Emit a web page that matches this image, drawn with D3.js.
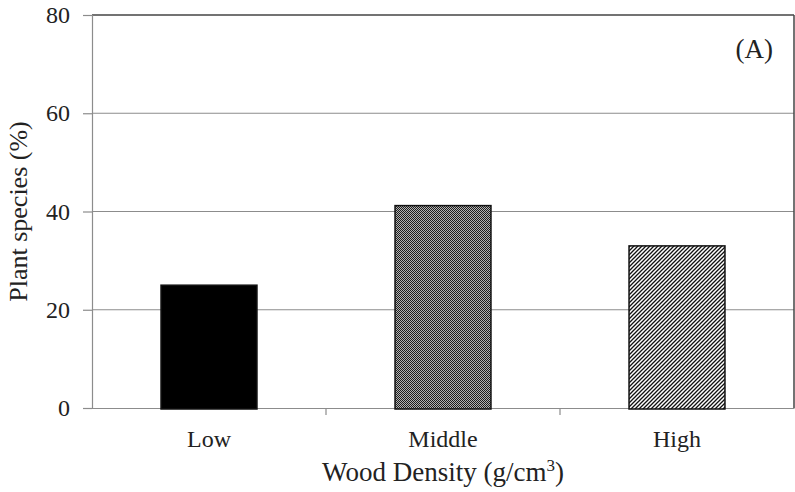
<!DOCTYPE html>
<html><head><meta charset="utf-8">
<script src="https://cdn.jsdelivr.net/npm/d3@7"></script>
<style>body{margin:0;background:#fff}svg{display:block}text{font-family:"Liberation Serif","Times New Roman",serif;fill:#222}</style>
</head><body><svg id="c" width="795" height="492"></svg>
<script>
const categories = ["Low", "Middle", "High"];
const values = [25, 41.2, 33];
const fills = ["solid", "dots", "hatch"];
const yTicks = [0, 20, 40, 60, 80];

const svg = d3.select("#c");
const m = {l: 92, r: 794, t: 15, b: 408};
const x = d3.scaleBand().domain(categories).range([m.l, m.r]).paddingInner(0.59).paddingOuter(0.295);
const xb = d3.scaleBand().domain(categories).range([m.l, m.r]);
const y = d3.scaleLinear().domain([0, 80]).range([m.b, m.t]);

const defs = svg.append("defs");
const pd = defs.append("pattern").attr("id", "dots").attr("width", 2).attr("height", 2).attr("patternUnits", "userSpaceOnUse");
pd.append("rect").attr("width", 2).attr("height", 2).attr("fill", "#b4b4b4");
pd.append("rect").attr("width", 1).attr("height", 1).attr("fill", "#1e1e1e");
pd.append("rect").attr("x", 1).attr("y", 1).attr("width", 1).attr("height", 1).attr("fill", "#1e1e1e");
const ph = defs.append("pattern").attr("id", "hatch").attr("width", 4).attr("height", 4).attr("patternUnits", "userSpaceOnUse");
ph.append("rect").attr("width", 4).attr("height", 4).attr("fill", "#fff");
ph.append("path").attr("d", "M0,4L4,0M-1,1L1,-1M3,5L5,3").attr("stroke", "#111").attr("stroke-width", 1.3);

// gridlines
svg.append("g").selectAll("line").data(yTicks.filter(d => d > 0 && d < 80)).join("line")
  .attr("x1", m.l).attr("x2", m.r).attr("y1", d => y(d)).attr("y2", d => y(d))
  .attr("stroke", "#8c8c8c").attr("stroke-width", 1.2);
// top and right border
svg.append("line").attr("x1", m.l).attr("x2", m.r).attr("y1", y(80)).attr("y2", y(80)).attr("stroke", "#444").attr("stroke-width", 1.5);
svg.append("line").attr("x1", m.r).attr("x2", m.r).attr("y1", y(80)).attr("y2", m.b).attr("stroke", "#444").attr("stroke-width", 1.5);

// y axis
const ya = svg.append("g").attr("transform", `translate(${m.l},0)`)
  .call(d3.axisLeft(y).tickValues(yTicks).tickSize(9).tickPadding(13));
ya.select(".domain").attr("stroke", "#8c8c8c").attr("stroke-width", 1.2);
ya.selectAll(".tick line").attr("stroke", "#8c8c8c").attr("stroke-width", 1.2);
ya.selectAll("text").attr("font-size", 24).attr("fill", "#222").attr("font-family", "Liberation Serif");

// x axis
const xa = svg.append("g").attr("transform", `translate(0,${m.b})`)
  .call(d3.axisBottom(xb).tickSize(0).tickPadding(22));
xa.select(".domain").attr("stroke", "#8c8c8c").attr("stroke-width", 1.2);
xa.selectAll("text").attr("font-size", 24).attr("fill", "#222").attr("font-family", "Liberation Serif");
// category boundary ticks
svg.append("g").selectAll("line").data(categories.slice(1)).join("line")
  .attr("x1", d => xb(d)).attr("x2", d => xb(d)).attr("y1", m.b).attr("y2", m.b + 7)
  .attr("stroke", "#8c8c8c").attr("stroke-width", 1.2);

// bars
svg.append("g").selectAll("rect").data(categories).join("rect")
  .attr("x", d => x(d)).attr("width", x.bandwidth())
  .attr("y", (d, i) => y(values[i])).attr("height", (d, i) => y(0) - y(values[i]) + 1)
  .attr("fill", (d, i) => fills[i] === "solid" ? "#000" : `url(#${fills[i]})`)
  .attr("stroke", "#111").attr("stroke-width", 1.5);

// titles
const xt = svg.append("text").attr("x", (m.l + m.r) / 2).attr("y", 481).attr("text-anchor", "middle").attr("font-size", 27);
xt.append("tspan").text("Wood Density (g/cm");
xt.append("tspan").attr("font-size", 17).attr("dy", -10).text("3");
xt.append("tspan").attr("dy", 10).text(")");
svg.append("text").attr("transform", `translate(27,${(m.t + m.b) / 2}) rotate(-90)`).attr("text-anchor", "middle").attr("font-size", 26)
  .text("Plant species (%)");
svg.append("text").attr("x", 773).attr("y", 58).attr("text-anchor", "end").attr("font-size", 27).text("(A)");
</script></body></html>
